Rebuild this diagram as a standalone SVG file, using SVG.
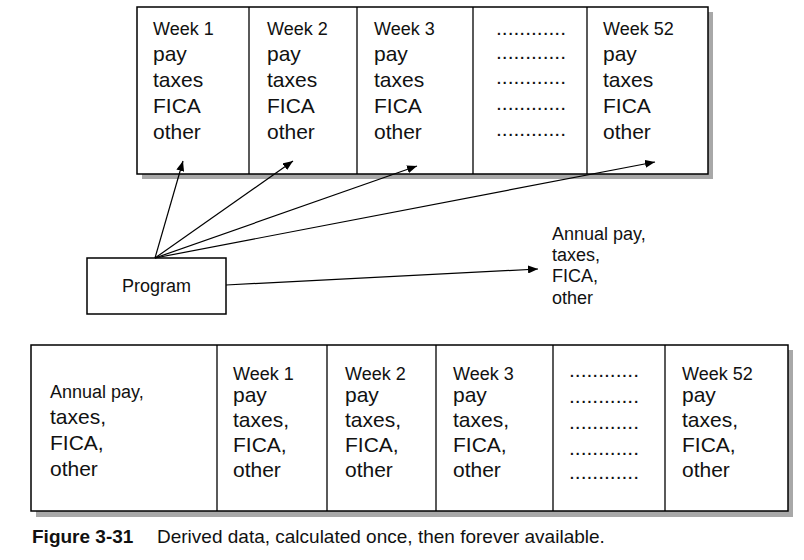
<svg xmlns="http://www.w3.org/2000/svg" width="804" height="560" viewBox="0 0 804 560">
<defs>
<style>
.box{fill:#fff;stroke:#000;stroke-width:1.5}
.shadow{fill:#a8a8a8}
.div{stroke:#000;stroke-width:1.3}
.t{font-family:"Liberation Sans",Arial,sans-serif;fill:#111}
.s{font-size:18px}
.l{font-size:21px}
.c{font-size:19px}
.b{font-weight:bold}
.conn{stroke:#000;stroke-width:1.2;fill:none}
</style>
<marker id="ah" viewBox="0 0 10 8" refX="10" refY="4" markerWidth="10" markerHeight="8" markerUnits="userSpaceOnUse" orient="auto">
<path d="M0,0 L10,4 L0,8 z" fill="#000"/>
</marker>
</defs>
<rect width="804" height="560" fill="#fff"/>

<g id="top-table">
<rect class="shadow" x="142" y="12" width="571" height="167"/>
<rect class="box" x="137" y="7" width="571" height="167"/>
<line class="div" x1="249" y1="7" x2="249" y2="174"/>
<line class="div" x1="357" y1="7" x2="357" y2="174"/>
<line class="div" x1="473" y1="7" x2="473" y2="174"/>
<line class="div" x1="587" y1="7" x2="587" y2="174"/>
<g id="top-week1" class="t">
<text class="s" x="153" y="35">Week 1</text>
<text class="l" x="153" y="61">pay</text>
<text class="l" x="153" y="87">taxes</text>
<text class="l" x="153" y="113">FICA</text>
<text class="l" x="153" y="139">other</text>
</g>
<g id="top-week2" class="t">
<text class="s" x="267" y="35">Week 2</text>
<text class="l" x="267" y="61">pay</text>
<text class="l" x="267" y="87">taxes</text>
<text class="l" x="267" y="113">FICA</text>
<text class="l" x="267" y="139">other</text>
</g>
<g id="top-week3" class="t">
<text class="s" x="374" y="35">Week 3</text>
<text class="l" x="374" y="61">pay</text>
<text class="l" x="374" y="87">taxes</text>
<text class="l" x="374" y="113">FICA</text>
<text class="l" x="374" y="139">other</text>
</g>
<g id="top-dots" class="t">
<text class="l" x="496" y="35">............</text>
<text class="l" x="496" y="59">............</text>
<text class="l" x="496" y="84">............</text>
<text class="l" x="496" y="110">............</text>
<text class="l" x="496" y="136">............</text>
</g>
<g id="top-week52" class="t">
<text class="s" x="603" y="35">Week 52</text>
<text class="l" x="603" y="61">pay</text>
<text class="l" x="603" y="87">taxes</text>
<text class="l" x="603" y="113">FICA</text>
<text class="l" x="603" y="139">other</text>
</g>
</g>

<g id="program">
<rect class="box" x="87" y="258" width="139" height="56"/>
<text class="t s" x="156.5" y="292" text-anchor="middle">Program</text>
</g>

<g id="annual-output" class="t">
<text class="s" x="552" y="240">Annual pay,</text>
<text class="s" x="552" y="261">taxes,</text>
<text class="s" x="552" y="282">FICA,</text>
<text class="s" x="552" y="304">other</text>
</g>

<g id="connectors">
<line class="conn" x1="155" y1="258" x2="183" y2="161" marker-end="url(#ah)"/>
<line class="conn" x1="155" y1="258" x2="293" y2="161" marker-end="url(#ah)"/>
<line class="conn" x1="155" y1="258" x2="417" y2="166" marker-end="url(#ah)"/>
<line class="conn" x1="155" y1="258" x2="655" y2="162" marker-end="url(#ah)"/>
<line class="conn" x1="226" y1="285" x2="538" y2="269" marker-end="url(#ah)"/>
</g>

<g id="bottom-table">
<rect class="shadow" x="36" y="350" width="757" height="167"/>
<rect class="box" x="31" y="345" width="757" height="166"/>
<line class="div" x1="217" y1="345" x2="217" y2="511"/>
<line class="div" x1="327" y1="345" x2="327" y2="511"/>
<line class="div" x1="436" y1="345" x2="436" y2="511"/>
<line class="div" x1="553" y1="345" x2="553" y2="511"/>
<line class="div" x1="665" y1="345" x2="665" y2="511"/>
<g id="bottom-annual" class="t">
<text class="s" x="50" y="398">Annual pay,</text>
<text class="l" x="50" y="424">taxes,</text>
<text class="l" x="50" y="450">FICA,</text>
<text class="l" x="50" y="476">other</text>
</g>
<g id="bottom-week1" class="t">
<text class="s" x="233" y="380">Week 1</text>
<text class="l" x="233" y="402">pay</text>
<text class="l" x="233" y="427">taxes,</text>
<text class="l" x="233" y="452">FICA,</text>
<text class="l" x="233" y="477">other</text>
</g>
<g id="bottom-week2" class="t">
<text class="s" x="345" y="380">Week 2</text>
<text class="l" x="345" y="402">pay</text>
<text class="l" x="345" y="427">taxes,</text>
<text class="l" x="345" y="452">FICA,</text>
<text class="l" x="345" y="477">other</text>
</g>
<g id="bottom-week3" class="t">
<text class="s" x="453" y="380">Week 3</text>
<text class="l" x="453" y="402">pay</text>
<text class="l" x="453" y="427">taxes,</text>
<text class="l" x="453" y="452">FICA,</text>
<text class="l" x="453" y="477">other</text>
</g>
<g id="bottom-dots" class="t">
<text class="l" x="569" y="377">............</text>
<text class="l" x="569" y="403">............</text>
<text class="l" x="569" y="429">............</text>
<text class="l" x="569" y="455">............</text>
<text class="l" x="569" y="479">............</text>
</g>
<g id="bottom-week52" class="t">
<text class="s" x="682" y="380">Week 52</text>
<text class="l" x="682" y="402">pay</text>
<text class="l" x="682" y="427">taxes,</text>
<text class="l" x="682" y="452">FICA,</text>
<text class="l" x="682" y="477">other</text>
</g>
</g>

<g id="caption" class="t c">
<text class="b" x="32" y="543">Figure 3-31</text>
<text x="157" y="543">Derived data, calculated once, then forever available.</text>
</g>
</svg>
